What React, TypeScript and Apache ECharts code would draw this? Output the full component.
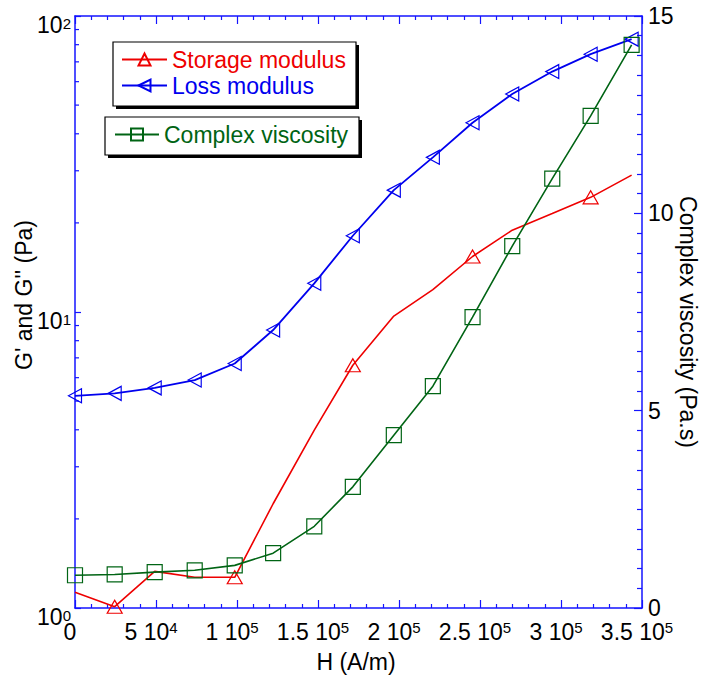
import React, { useEffect, useRef } from 'react';
import * as echarts from 'echarts';

// Magnetic field strength H (A/m) at each measurement
const fieldH = [0, 24500, 49200, 73900, 98600, 122300, 147700, 171500, 196800, 220900, 245400, 269900, 294600, 318300, 343600];
// Storage modulus G' (Pa)
const storageModulus = [1.13, 1.01, 1.33, 1.27, 1.27, 2.25, 3.99, 6.61, 9.69, 11.9, 15.4, 18.9, 21.5, 24.4, 29.0];
// Points of the storage modulus curve that carry a marker
const storageMarked = [1, 4, 7, 10, 13];
// Loss modulus G'' (Pa)
const lossModulus = [5.21, 5.31, 5.54, 5.89, 6.7, 8.69, 12.5, 18.1, 25.8, 33.3, 43.6, 54.5, 64.9, 74.3, 83.5];
// Complex viscosity (Pa.s)
const complexViscosity = [0.83, 0.85, 0.91, 0.955, 1.08, 1.39, 2.07, 3.07, 4.38, 5.62, 7.37, 9.17, 10.88, 12.47, 14.27];

// Minor tick positions of the logarithmic modulus axis
const logMinorTicks = [2, 3, 4, 5, 6, 7, 8, 9, 20, 30, 40, 50, 60, 70, 80, 90];

const FONT = '"Liberation Sans", Arial, Helvetica, sans-serif';
const AXIS_BLUE = '#1414ff';
const RED = '#ee0000';
const BLUE = '#0000ee';
const GREEN = '#006414';

const richX = {
  b: { fontSize: 23, fontFamily: FONT, color: '#000', lineHeight: 24 },
  s: { fontSize: 15, fontFamily: FONT, color: '#000', lineHeight: 10, verticalAlign: 'top' as const },
};
const richY = {
  b: { fontSize: 23, fontFamily: FONT, color: '#000', lineHeight: 18 },
  s: { fontSize: 15, fontFamily: FONT, color: '#000', lineHeight: 2, verticalAlign: 'top' as const },
};

// "m 10^e" tick text with a superscript exponent
const sciLabel = (v: number) => {
  if (v === 0) return '{b|0}';
  const e = Math.floor(Math.log10(v) + 1e-9);
  const m = +(v / Math.pow(10, e)).toFixed(2);
  return `{b|${m} 10}{s|${e}}`;
};

const powLabel = (v: number) => `{b|10}{s|${Math.round(Math.log10(v))}}`;

const pairs = (ys: number[]) => fieldH.map((x, i) => [x, ys[i]]);

function buildOption(): echarts.EChartsOption {
  return {
    animation: false,
    backgroundColor: '#fff',
    grid: { left: 75, right: 60, top: 16, bottom: 73, containLabel: false },
    xAxis: [
      {
        type: 'value',
        min: 0,
        max: 350000,
        interval: 50000,
        position: 'bottom',
        axisLine: { show: true, onZero: false, lineStyle: { color: AXIS_BLUE, width: 1.5 } },
        axisTick: { show: true, inside: true, length: 8, lineStyle: { color: AXIS_BLUE, width: 1.2 } },
        minorTick: { show: true, splitNumber: 5, length: 4, lineStyle: { color: AXIS_BLUE, width: 1.2 } },
        splitLine: { show: false },
        axisLabel: {
          margin: 12,
          padding: [0, 10, 0, 0],
          formatter: (v: number) => sciLabel(v),
          rich: richX,
        },
      },
      {
        type: 'value',
        min: 0,
        max: 350000,
        interval: 50000,
        position: 'top',
        axisLine: { show: true, onZero: false, lineStyle: { color: AXIS_BLUE, width: 1.5 } },
        axisTick: { show: true, inside: true, length: 8, lineStyle: { color: AXIS_BLUE, width: 1.2 } },
        minorTick: { show: true, splitNumber: 5, length: 4, lineStyle: { color: AXIS_BLUE, width: 1.2 } },
        splitLine: { show: false },
        axisLabel: { show: false },
      },
    ],
    yAxis: [
      {
        type: 'log',
        logBase: 10,
        min: 1,
        max: 100,
        position: 'left',
        axisLine: { show: true, onZero: false, lineStyle: { color: AXIS_BLUE, width: 1.5 } },
        axisTick: { show: true, inside: true, length: 6, lineStyle: { color: AXIS_BLUE, width: 1.2 } },
        splitLine: { show: false },
        axisLabel: {
          margin: 4,
          verticalAlign: 'top',
          formatter: (v: number) => powLabel(v),
          rich: richY,
        },
      },
      {
        type: 'value',
        min: 0,
        max: 15,
        interval: 5,
        position: 'right',
        axisLine: { show: true, onZero: false, lineStyle: { color: AXIS_BLUE, width: 1.5 } },
        axisTick: { show: true, inside: true, length: 8, lineStyle: { color: AXIS_BLUE, width: 1.2 } },
        minorTick: { show: true, splitNumber: 10, length: 5, lineStyle: { color: AXIS_BLUE, width: 1.2 } },
        splitLine: { show: false },
        axisLabel: { margin: 6, fontSize: 23, lineHeight: 18, padding: [0, 0, 4, 0], fontFamily: FONT, color: '#000' },
      },
    ],
    legend: [
      {
        orient: 'vertical',
        left: 121,
        top: 48,
        padding: 0,
        itemGap: 3,
        itemWidth: 45,
        itemHeight: 15,
        textStyle: { fontSize: 23, fontFamily: FONT },
        data: [
          { name: 'Storage modulus', textStyle: { color: RED } },
          { name: 'Loss modulus', textStyle: { color: BLUE } },
        ],
      },
      {
        orient: 'vertical',
        left: 114,
        top: 123,
        padding: 0,
        itemWidth: 44,
        itemHeight: 15,
        textStyle: { fontSize: 23, fontFamily: FONT },
        data: [{ name: 'Complex viscosity', textStyle: { color: GREEN } }],
      },
    ],
    graphic: [
      // legend frames with hard drop shadows
      { type: 'rect', z: -2, shape: { x: 116, y: 45, width: 243, height: 64 }, style: { fill: '#000' } },
      { type: 'rect', z: -1, shape: { x: 113, y: 42, width: 243, height: 64 }, style: { fill: '#fff', stroke: '#000', lineWidth: 1.2 } },
      { type: 'rect', z: -2, shape: { x: 108, y: 120, width: 254, height: 38 }, style: { fill: '#000' } },
      { type: 'rect', z: -1, shape: { x: 105, y: 117, width: 254, height: 38 }, style: { fill: '#fff', stroke: '#000', lineWidth: 1.2 } },
      // axis titles
      {
        type: 'text', x: 24, y: 295, rotation: Math.PI / 2,
        style: { text: "G' and G'' (Pa)", fontSize: 23, fontFamily: FONT, fill: '#000', align: 'center', verticalAlign: 'middle' },
      },
      {
        type: 'text', x: 688, y: 322, rotation: -Math.PI / 2,
        style: { text: 'Complex viscosity (Pa.s)', fontSize: 23, fontFamily: FONT, fill: '#000', align: 'center', verticalAlign: 'middle' },
      },
      {
        type: 'text', x: 356, y: 662,
        style: { text: 'H (A/m)', fontSize: 23, fontFamily: FONT, fill: '#000', align: 'center', verticalAlign: 'middle' },
      },
    ],
    series: [
      {
        name: 'Storage modulus',
        type: 'line',
        xAxisIndex: 0,
        yAxisIndex: 0,
        symbol: 'triangle',
        symbolSize: [15, 13],
        showAllSymbol: true,
        lineStyle: { color: RED, width: 1.6 },
        itemStyle: { color: 'transparent', borderColor: RED, borderWidth: 1.2 },
        data: pairs(storageModulus).map((p, i) =>
          storageMarked.includes(i) ? { value: p } : { value: p, symbol: 'none' }
        ),
      },
      {
        name: 'Loss modulus',
        type: 'line',
        xAxisIndex: 0,
        yAxisIndex: 0,
        symbol: 'triangle',
        symbolRotate: 90,
        symbolSize: [14, 13],
        showAllSymbol: true,
        lineStyle: { color: BLUE, width: 1.8 },
        itemStyle: { color: 'transparent', borderColor: BLUE, borderWidth: 1.2 },
        data: pairs(lossModulus),
      },
      {
        name: 'Complex viscosity',
        type: 'line',
        xAxisIndex: 0,
        yAxisIndex: 1,
        symbol: 'rect',
        symbolSize: 15,
        showAllSymbol: true,
        lineStyle: { color: GREEN, width: 1.6 },
        itemStyle: { color: 'transparent', borderColor: GREEN, borderWidth: 1.2 },
        data: pairs(complexViscosity),
      },
      {
        name: 'log minor ticks',
        type: 'custom',
        xAxisIndex: 0,
        yAxisIndex: 0,
        silent: true,
        clip: false,
        renderItem: (params: any, api: any) => {
          const p = api.coord([0, api.value(1)]);
          return {
            type: 'line',
            shape: { x1: p[0], y1: p[1], x2: p[0] + 4, y2: p[1] },
            style: { stroke: AXIS_BLUE, lineWidth: 1.2 },
          };
        },
        data: logMinorTicks.map((v) => [0, v]),
      },
    ],
  };
}

export default function App() {
  const ref = useRef<HTMLDivElement>(null);
  useEffect(() => {
    if (!ref.current) return;
    const chart = echarts.init(ref.current, null, { renderer: 'svg' });
    chart.setOption(buildOption());
    return () => chart.dispose();
  }, []);
  return (
    <div
      ref={ref}
      style={{ position: 'fixed', left: 0, top: 0, width: 702, height: 681, background: '#fff' }}
    />
  );
}
